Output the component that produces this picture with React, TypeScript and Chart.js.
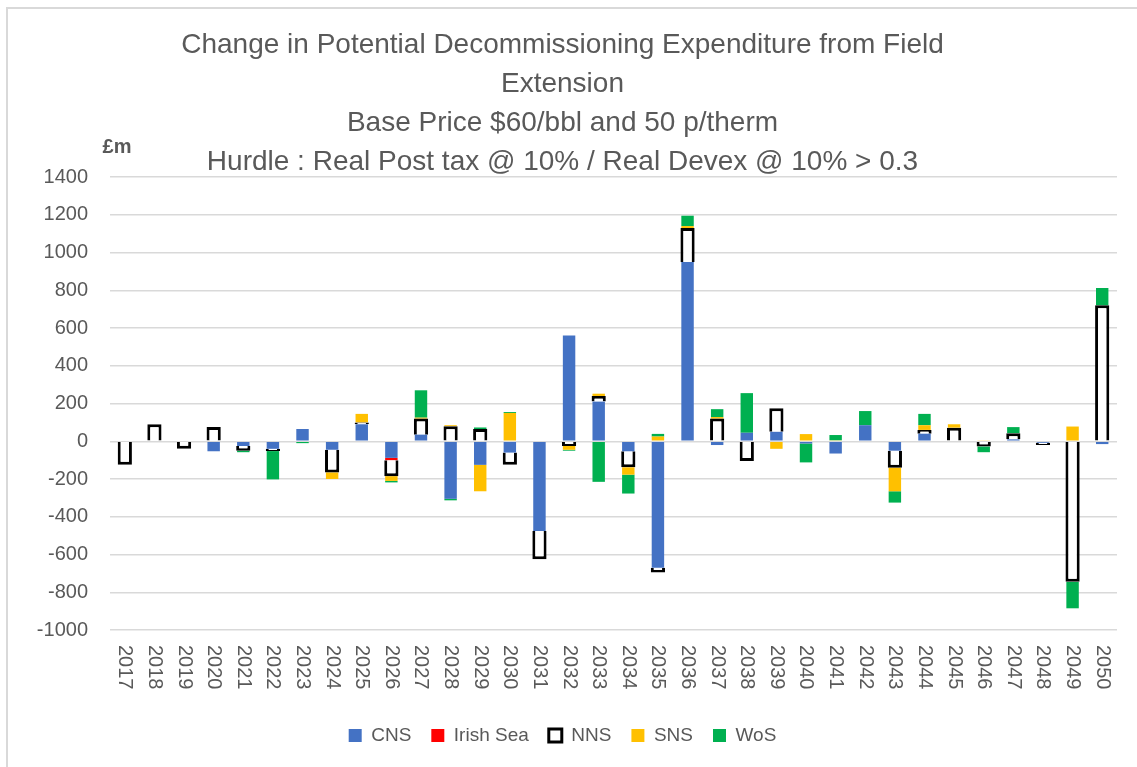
import React, { useEffect, useRef } from "react";
import { Chart, registerables } from "chart.js";

Chart.register(...registerables);

const years = [
  "2017", "2018", "2019", "2020", "2021", "2022", "2023", "2024", "2025", "2026",
  "2027", "2028", "2029", "2030", "2031", "2032", "2033", "2034", "2035", "2036",
  "2037", "2038", "2039", "2040", "2041", "2042", "2043", "2044", "2045", "2046",
  "2047", "2048", "2049", "2050",
];

const cns = [
  null, null, null, -53, -25, -40, 65, -45, 90, -88,
  35, -305, -125, -60, -475, 560, 210, -53, -670, 950,
  -20, 45, 50, -12, -65, 85, -50, 40, null, null,
  10, -8, null, -15,
];

const irishSea = [
  null, null, null, null, null, null, null, null, null, -12,
  null, null, null, null, null, null, null, null, null, null,
  null, null, null, null, null, null, null, null, null, null,
  null, null, null, null,
];

const nns = [
  -125, 90, -40, 75, -25, -12, null, -120, 10, -85,
  85, 80, 65, -65, -150, -25, 30, -85, -25, 180,
  120, -105, 125, null, null, null, -90, 20, 72, -28,
  33, -12, -745, 720,
];

const sns = [
  null, null, null, null, null, null, null, -35, 45, -25,
  5, 5, -140, 150, null, -20, 12, -39, 25, 10,
  8, null, -40, 38, 5, null, -125, 25, 18, 5,
  null, null, 78, null,
];

const wos = [
  null, null, null, null, -8, -150, -10, null, null, -8,
  145, -8, 8, 5, null, -5, -215, -100, 14, 55,
  42, 210, null, -100, 28, 75, -60, 60, null, -30,
  32, null, -140, 92,
];

const titleLines = [
  "Change in Potential Decommissioning Expenditure from Field",
  "Extension",
  "Base Price $60/bbl and 50 p/therm",
  "Hurdle : Real Post tax @ 10% / Real Devex @ 10% > 0.3",
];

const yUnit = "£m";
const FONT = "'Liberation Sans', Arial, sans-serif";
const GREY = "#595959";

export default function App() {
  const ref = useRef<HTMLCanvasElement | null>(null);

  useEffect(() => {
    document.body.style.overflow = "hidden";
    if (!ref.current) return;
    const extras = {
      id: "extras",
      afterDraw(chart: any) {
        const ctx = chart.ctx;
        const xs = chart.scales.x;
        const area = chart.chartArea;
        ctx.save();
        ctx.fillStyle = GREY;
        ctx.font = `20px ${FONT}`;
        ctx.textAlign = "left";
        ctx.textBaseline = "middle";
        years.forEach((y, i) => {
          const x = xs.getPixelForValue(i);
          ctx.save();
          ctx.translate(x, area.bottom + 15);
          ctx.rotate(Math.PI / 2);
          ctx.fillText(y, 0, 0);
          ctx.restore();
        });
        ctx.font = `bold 20px ${FONT}`;
        ctx.textAlign = "center";
        ctx.fillText(yUnit, 109, 138);
        ctx.restore();
      },
    };

    const chart = new Chart(ref.current, {
      type: "bar",
      data: {
        labels: years,
        datasets: [
          { label: "CNS", data: cns, backgroundColor: "#4472C4", borderWidth: 0 },
          { label: "Irish Sea", data: irishSea, backgroundColor: "#FF0000", borderWidth: 0 },
          { label: "NNS", data: nns, backgroundColor: "#FFFFFF", borderColor: "#000000", borderWidth: 3, barPercentage: 0.48 },
          { label: "SNS", data: sns, backgroundColor: "#FFC000", borderWidth: 0 },
          { label: "WoS", data: wos, backgroundColor: "#00B050", borderWidth: 0 },
        ] as any,
      },
      plugins: [extras],
      options: {
        animation: false,
        responsive: false,
        maintainAspectRatio: false,
        layout: { padding: { left: 0, right: 20, top: 0, bottom: 12 } },
        datasets: { bar: { categoryPercentage: 1, barPercentage: 0.42 } },
        scales: {
          x: {
            stacked: true,
            grid: { display: false },
            border: { display: false },
            ticks: { display: false },
            afterFit: (s: any) => { s.height = 76; },
          },
          y: {
            stacked: true,
            min: -1000,
            max: 1400,
            ticks: {
              stepSize: 200,
              color: GREY,
              font: { family: FONT, size: 20 },
              padding: 22,
              callback: (v: any) => String(v),
            },
            grid: { color: "#D9D9D9", lineWidth: 1.5, drawTicks: false },
            border: { display: false },
            afterFit: (s: any) => { s.width = 102; },
          },
        },
        plugins: {
          title: {
            display: true,
            text: titleLines,
            color: GREY,
            font: { family: FONT, size: 28, weight: "normal", lineHeight: 1.393 },
            padding: { top: 17, bottom: -5 },
          },
          legend: {
            position: "bottom",
            labels: {
              color: GREY,
              font: { family: FONT, size: 19 },
              boxWidth: 13,
              boxHeight: 13,
              padding: 20,
            },
          },
          tooltip: { enabled: false },
        },
      } as any,
    });
    return () => chart.destroy();
  }, []);

  return (
    <div
      style={{
        position: "absolute",
        left: 6,
        top: 7,
        width: 1129,
        height: 760,
        borderLeft: "2px solid #D9D9D9",
        borderTop: "2px solid #D9D9D9",
        background: "#fff",
        overflow: "hidden",
      }}
    >
      <canvas ref={ref} width={1129} height={758} style={{ display: "block" }} />
    </div>
  );
}
